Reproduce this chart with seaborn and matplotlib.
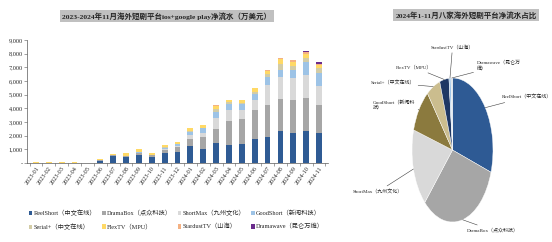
import numpy as np
import pandas as pd
import matplotlib
matplotlib.use("Agg")
import matplotlib.pyplot as plt
import seaborn as sns
from matplotlib.patches import Patch

# monthly net revenue (10k USD)
months = ["2023-01", "2023-02", "2023-03", "2023-04", "2023-05", "2023-06",
          "2023-07", "2023-08", "2023-09", "2023-10", "2023-11", "2023-12",
          "2024-01", "2024-02", "2024-03", "2024-04", "2024-05", "2024-06",
          "2024-07", "2024-08", "2024-09", "2024-10", "2024-11"]
reelshort = [10, 10, 10, 15, 10, 180, 520, 420, 560, 420, 730, 800,
             1220, 1050, 1460, 1290, 1390, 1780, 1910, 2340, 2220, 2340, 2200]
dramabox = [0, 0, 0, 0, 0, 20, 30, 60, 150, 130, 250, 350,
            560, 850, 1000, 1760, 1850, 2070, 2320, 2340, 2370, 2390, 2020]
shortmax = [0, 0, 0, 0, 0, 0, 0, 0, 0, 0, 50, 80,
            250, 330, 860, 800, 610, 740, 1510, 1610, 1630, 1680, 1390]
goodshort = [0, 0, 0, 0, 0, 0, 0, 40, 60, 50, 100, 130,
             250, 300, 410, 490, 440, 430, 560, 540, 610, 980, 980]
serial = [0, 0, 0, 0, 0, 0, 0, 0, 30, 20, 30, 40,
          80, 60, 200, 90, 130, 200, 200, 400, 270, 320, 370]
flextv = [40, 40, 30, 65, 20, 100, 130, 200, 200, 130, 140, 140,
          210, 210, 270, 180, 190, 240, 250, 380, 320, 260, 200]
stardust = [0, 0, 0, 0, 0, 0, 0, 0, 0, 0, 0, 0,
            0, 0, 20, 20, 20, 30, 50, 90, 130, 130, 60]
dramawave = [0, 0, 0, 0, 0, 0, 0, 0, 0, 0, 0, 0,
             0, 0, 0, 0, 0, 0, 0, 0, 0, 100, 180]

names = ["ReelShort（中文在线）", "DramaBox（点众科技）", "ShortMax（九州文化）",
         "GoodShort（新阅科技）", "Serial+（中文在线）", "FlexTV（MPU）",
         "StardustTV（山海）", "Dramawave（昆仑万维）"]
bar_colors = ["#2f5b94", "#a6a6a6", "#d9d9d9", "#9dc3e6",
              "#d3cca6", "#ffd966", "#f4b183", "#6a2c8c"]

# 2024 Jan-Nov share (%)
pie_labels = ["ReelShort（中文在线）", "DramaBox（点众科技）", "ShortMax（九州文化）",
              "GoodShort（新阅科\n技）", "Serial+（中文在线）", "FlexTV（MPU）",
              "StardustTV（山海）", "Dramawave（昆仑万\n维）"]
pie_share = [30.0, 32.0, 17.5, 9.9, 5.5, 3.7, 0.8, 0.6]
pie_colors = ["#2e5a94", "#a6a6a6", "#d9d9d9", "#8b7a3e",
              "#cbbd8e", "#1f3864", "#9dc3e6", "#d6dce4"]

sns.set_theme(style="white")
plt.rcParams["font.family"] = ["Liberation Serif", "Noto Sans CJK SC", "DejaVu Sans"]

fig = plt.figure(figsize=(5.52, 2.42), dpi=100)

# ---- stacked bars ----
ax = fig.add_axes([27 / 552, 1 - 163 / 242, 301 / 552, 123 / 242])
data = pd.DataFrame(dict(zip(names, [reelshort, dramabox, shortmax, goodshort,
                                      serial, flextv, stardust, dramawave])),
                    index=months)
cum = data.cumsum(axis=1)
# draw tallest first so lower layers sit on top
for name, col in reversed(list(zip(names, bar_colors))):
    sns.barplot(x=months, y=cum[name].values, color=col, width=0.45,
                saturation=1, errorbar=None, linewidth=0, ax=ax)

ax.set_ylim(0, 9000)
ax.set_xlim(-0.7, len(months) - 0.3)
ax.set_yticks(range(0, 9001, 1000))
ax.set_yticklabels(["-"] + [f"{v:,}" for v in range(1000, 9001, 1000)], fontsize=4.5)
ax.set_xticks(range(len(months)))
ax.set_xticklabels(months, rotation=55, ha="right", rotation_mode="anchor", fontsize=4.5)
ax.set_xticks(np.arange(-0.5, len(months), 1), minor=True)
ax.tick_params(axis="y", which="major", length=2, width=0.4, pad=1, color="#595959", left=True)
ax.tick_params(axis="x", which="major", length=0, pad=2)
ax.tick_params(axis="x", which="minor", length=2, width=0.4, color="#595959", bottom=True)
for s in ["top", "right"]:
    ax.spines[s].set_visible(False)
for s in ["left", "bottom"]:
    ax.spines[s].set_color("#595959")
    ax.spines[s].set_linewidth(0.5)
ax.set_xlabel("")
ax.set_ylabel("")

fig.text(167 / 552, 1 - 16 / 242, "2023-2024年11月海外短剧平台ios+google play净流水（万美元）",
         ha="center", va="center", fontsize=5.4, fontweight="bold",
         bbox=dict(facecolor="#c0c0c0", edgecolor="none", pad=1.8))

# legend filled row by row (matplotlib fills by column)
order = [0, 4, 1, 5, 2, 6, 3, 7]
handles = [Patch(facecolor=bar_colors[i], edgecolor="none") for i in order]
fig.legend(handles, [names[i] for i in order], ncol=4, loc="upper left",
           bbox_to_anchor=(26 / 552, 1 - 207 / 242), fontsize=4.5, frameon=False,
           handlelength=0.6, handleheight=0.7, handletextpad=0.2,
           columnspacing=0.9, labelspacing=1.2, borderaxespad=0)

# ---- pie ----
ax2 = fig.add_axes([412 / 552, 1 - 222 / 242, 81 / 552, 144 / 242])
wedges, _ = ax2.pie(pie_share, colors=pie_colors, startangle=90, counterclock=False,
                    wedgeprops=dict(linewidth=0.3, edgecolor="white"))
ax2.set_aspect("auto")
ax2.set_xlim(-1, 1)
ax2.set_ylim(-1, 1)

text_pos = [(1.22, 0.74, "left"), (0.36, -1.12, "left"), (-1.22, -0.58, "right"),
            (-0.93, 0.63, "right"), (-0.93, 0.93, "right"), (-0.5, 1.15, "right"),
            (0.0, 1.43, "center"), (0.6, 1.17, "left")]
fracs = np.array(pie_share) / sum(pie_share)
starts = np.concatenate([[0], np.cumsum(fracs)[:-1]])
for lab, f, s0, (tx, ty, ha) in zip(pie_labels, fracs, starts, text_pos):
    th = 2 * np.pi * (s0 + f / 2)
    ax2.annotate(lab, xy=(np.sin(th), np.cos(th)), xytext=(tx, ty),
                 ha=ha, va="center", fontsize=3.6, multialignment="left",
                 annotation_clip=False,
                 arrowprops=dict(arrowstyle="-", color="#404040", lw=0.4,
                                 shrinkA=0, shrinkB=0))

fig.text(466 / 552, 1 - 15 / 242, "2024年1-11月八家海外短剧平台净流水占比",
         ha="center", va="center", fontsize=5.4, fontweight="bold",
         bbox=dict(facecolor="#c0c0c0", edgecolor="none", pad=1.8))

fig.savefig("out.png", dpi=100)
